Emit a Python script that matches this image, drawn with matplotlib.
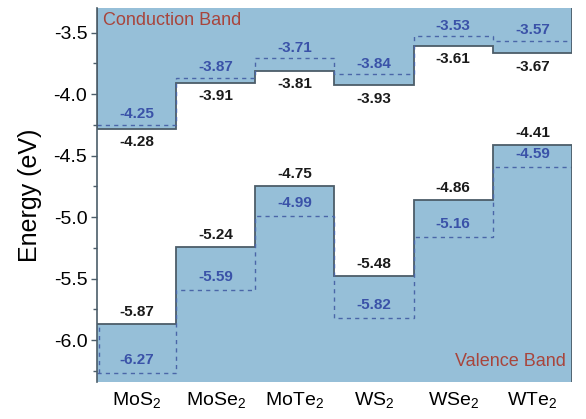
import numpy as np
import matplotlib
matplotlib.use('Agg')
import matplotlib.pyplot as plt

plt.rcParams['font.family'] = ['Liberation Sans', 'DejaVu Sans']
plt.rcParams['mathtext.default'] = 'regular'
plt.rcParams['axes.unicode_minus'] = False

#%% data
materials = ['MoS$_2$', 'MoSe$_2$', 'MoTe$_2$', 'WS$_2$', 'WSe$_2$', 'WTe$_2$']
cbm = [-4.28, -3.91, -3.81, -3.93, -3.61, -3.67]
cbm_blue = [-4.25, -3.87, -3.71, -3.84, -3.53, -3.57]
vbm = [-5.87, -5.24, -4.75, -5.48, -4.86, -4.41]
vbm_blue = [-6.27, -5.59, -4.99, -5.82, -5.16, -4.59]

ytop, ybot = -3.30, -6.34
fill_c = '#96bfd8'
edge_c = '#4c5d69'
blue_c = '#3a52a8'
dash_c = '#4a66a8'

#%% figure
fig = plt.figure(figsize=(5.86, 4.19), dpi=100)
ax = fig.add_axes([0.1655, 0.0883, 0.976 - 0.1655, 0.981 - 0.0883])

n = len(materials)
edges = np.arange(n + 1)
xc = edges[:-1] + 0.5

# filled bands
ax.stairs(cbm, edges, baseline=ytop, fill=True, color=fill_c, lw=0)
ax.stairs(vbm, edges, baseline=ybot, fill=True, color=fill_c, lw=0)
# band edges
ax.stairs(cbm, edges, baseline=ytop, color=edge_c, lw=1.3)
ax.stairs(vbm, edges, baseline=None, color=edge_c, lw=1.3)
ax.vlines(n, vbm[-1], ybot, color=edge_c, lw=1.3)
# dashed levels
ax.stairs(cbm_blue, edges, baseline=None, color=dash_c, lw=1.0, ls=(0, (3, 3)))
ax.stairs(vbm_blue, edges, baseline=None, color=dash_c, lw=1.0, ls=(0, (3, 3)))
ax.vlines(0.02, vbm_blue[0], vbm[0], color=dash_c, lw=1.0, ls=(0, (3, 3)))

# labels
for i in range(n):
    ax.text(xc[i], cbm[i] - 0.05, '%.2f' % cbm[i], ha='center', va='top',
            fontsize=11, fontweight='bold', color='#1a1a1a')
    ax.text(xc[i], cbm_blue[i] + 0.03, '%.2f' % cbm_blue[i], ha='center', va='bottom',
            fontsize=11, fontweight='bold', color=blue_c)
    ax.text(xc[i], vbm[i] + 0.04, '%.2f' % vbm[i], ha='center', va='bottom',
            fontsize=11, fontweight='bold', color='#1a1a1a')
    ax.text(xc[i], vbm_blue[i] + 0.05, '%.2f' % vbm_blue[i], ha='center', va='bottom',
            fontsize=11, fontweight='bold', color=blue_c)

ax.text(0.07, -3.335, 'Conduction Band', ha='left', va='top', fontsize=13, color='#a8453c')
ax.text(5.92, -6.24, 'Valence Band', ha='right', va='bottom', fontsize=13, color='#a8453c')

ax.set_xlim(0, n)
ax.set_ylim(ybot, ytop)
ax.set_xticks(xc)
ax.set_xticklabels(materials, fontsize=14)
ax.tick_params(axis='x', length=0, pad=6)
ax.set_yticks([-3.5, -4.0, -4.5, -5.0, -5.5, -6.0])
ax.set_yticks([-3.75, -4.25, -4.75, -5.25, -5.75, -6.25], minor=True)
ax.tick_params(axis='y', labelsize=14, direction='out', length=4, width=1,
               color=edge_c, pad=3)
ax.tick_params(axis='y', which='minor', length=3, width=1, color=edge_c)
ax.set_ylabel('Energy (eV)', fontsize=18, labelpad=8)
for s in ['top', 'right', 'bottom']:
    ax.spines[s].set_visible(False)
ax.spines['left'].set_color(edge_c)
ax.spines['left'].set_linewidth(1.2)

fig.savefig('out.png', dpi=100)
